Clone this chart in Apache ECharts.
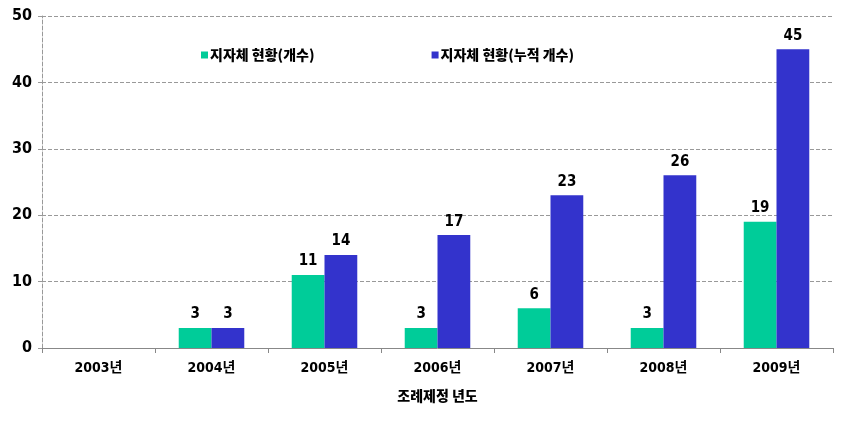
<!DOCTYPE html>
<html><head><meta charset="utf-8">
<script src="https://cdn.jsdelivr.net/npm/echarts@6/dist/echarts.min.js"></script>
<style>html,body{margin:0;padding:0;background:#fff}#c{width:850px;height:423px}</style>
</head><body><div id="c"></div>
<script>
var categories = ['2003년','2004년','2005년','2006년','2007년','2008년','2009년'];
var countValues = [0,3,11,3,6,3,19];
var cumulativeValues = [0,3,14,17,23,26,45];
var seriesNames = ['지자체 현황(개수)','지자체 현황(누적 개수)'];
var axisName = '조례제정 년도';

var FONT = '"DejaVu Sans Condensed", "Noto Sans CJK KR", sans-serif';
var KFONT = '"Noto Sans CJK KR", sans-serif';
var chart = echarts.init(document.getElementById('c'));
var lbl = {show:true, position:'top', distance:6, color:'#000', fontWeight:'bold', fontSize:15, fontFamily:FONT,
  formatter:function(p){return p.value===0?'':p.value;}};
chart.setOption({
  animation:false,
  legend:{left:196, top:43, itemWidth:7, itemHeight:7, itemGap:117, icon:'rect',
    textStyle:{fontWeight:900, fontSize:14, color:'#000', fontFamily:KFONT, padding:[0,0,0,-3]},
    data:seriesNames},
  grid:{left:42, right:17, top:16, bottom:75},
  xAxis:{type:'category', data:categories, name:axisName, nameLocation:'middle', nameGap:41,
    nameTextStyle:{fontWeight:900, fontSize:14, color:'#000', fontFamily:KFONT},
    axisLine:{lineStyle:{color:'#888'}}, axisTick:{show:true, length:5, lineStyle:{color:'#888'}},
    axisLabel:{fontWeight:'bold', fontSize:14, color:'#000', margin:13, fontFamily:FONT}},
  yAxis:{type:'value', min:0, max:50, interval:10,
    axisLine:{show:true, lineStyle:{color:'#999', type:'dashed'}},
    axisTick:{show:true, length:4, lineStyle:{color:'#999'}},
    splitLine:{lineStyle:{color:'#999', type:'dashed'}},
    axisLabel:{fontWeight:'bold', fontSize:16, color:'#000', margin:10, fontFamily:FONT}},
  series:[
    {name:seriesNames[0], type:'bar', data:countValues, itemStyle:{color:'#00CC99'}, barGap:'0%', barCategoryGap:'42%', label:lbl},
    {name:seriesNames[1], type:'bar', data:cumulativeValues, itemStyle:{color:'#3333CC'}, barGap:'0%', barCategoryGap:'42%', label:lbl}
  ]
});
</script></body></html>
